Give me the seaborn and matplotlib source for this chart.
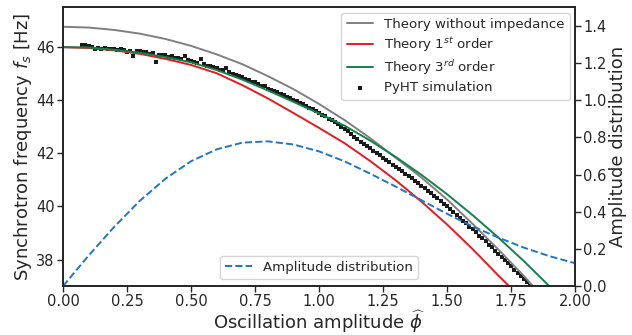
import numpy as np
import pandas as pd
import matplotlib
matplotlib.use("Agg")
import matplotlib.pyplot as plt
import seaborn as sns

# Theory without impedance (gray)
x_free = [0.0, 0.1, 0.2, 0.3, 0.4, 0.5, 0.6, 0.7, 0.8, 0.9, 1.0, 1.1, 1.2, 1.3,
          1.4, 1.5, 1.6, 1.7, 1.8, 1.84]
f_free = [46.77, 46.74, 46.65, 46.51, 46.31, 46.05, 45.73, 45.36, 44.91, 44.42,
          43.86, 43.25, 42.57, 41.83, 41.09, 40.26, 39.34, 38.38, 37.38, 36.95]

# Theory 1st order (red)
x_first = [0.0, 0.1, 0.2, 0.3, 0.4, 0.5, 0.6, 0.7, 0.8, 0.9, 1.0, 1.1, 1.2, 1.3,
           1.4, 1.5, 1.6, 1.7, 1.745]
f_first = [46.00, 45.97, 45.88, 45.75, 45.56, 45.33, 45.02, 44.57, 44.07, 43.52,
           42.96, 42.38, 41.71, 40.98, 40.18, 39.32, 38.39, 37.40, 36.97]

# Theory 3rd order (green)
x_third = [0.0, 0.1, 0.2, 0.3, 0.4, 0.5, 0.6, 0.7, 0.8, 0.9, 1.0, 1.1, 1.2, 1.3,
           1.4, 1.5, 1.6, 1.7, 1.8, 1.9]
f_third = [46.00, 45.99, 45.90, 45.79, 45.63, 45.43, 45.14, 44.78, 44.37, 43.94,
           43.50, 43.04, 42.48, 41.86, 41.19, 40.46, 39.67, 38.83, 37.94, 36.99]

# PyHT simulation points
x_sim = [0.075, 0.0875, 0.1, 0.1125, 0.125, 0.1375, 0.15, 0.1625, 0.175, 0.1875,
         0.2, 0.2125, 0.225, 0.2375, 0.25, 0.2625, 0.275, 0.2875, 0.3, 0.3125,
         0.325, 0.3375, 0.35, 0.3625, 0.375, 0.3875, 0.4, 0.4125, 0.425, 0.4375,
         0.45, 0.4625, 0.475, 0.4875, 0.5, 0.5125, 0.525, 0.5375, 0.55, 0.5625,
         0.575, 0.5875, 0.6, 0.6125, 0.625, 0.6375, 0.65, 0.6625, 0.675, 0.6875,
         0.7, 0.7125, 0.725, 0.7375, 0.75, 0.7625, 0.775, 0.7875, 0.8, 0.8125,
         0.825, 0.8375, 0.85, 0.8625, 0.875, 0.8875, 0.9, 0.9125, 0.925, 0.9375,
         0.95, 0.9625, 0.975, 0.9875, 1.0, 1.0125, 1.025, 1.0375, 1.05, 1.0625,
         1.075, 1.0875, 1.1, 1.1125, 1.125, 1.1375, 1.15, 1.1625, 1.175, 1.1875,
         1.2, 1.2125, 1.225, 1.2375, 1.25, 1.2625, 1.275, 1.2875, 1.3, 1.3125,
         1.325, 1.3375, 1.35, 1.3625, 1.375, 1.3875, 1.4, 1.4125, 1.425, 1.4375,
         1.45, 1.4625, 1.475, 1.4875, 1.5, 1.5125, 1.525, 1.5375, 1.55, 1.5625,
         1.575, 1.5875, 1.6, 1.6125, 1.625, 1.6375, 1.65, 1.6625, 1.675, 1.6875,
         1.7, 1.7125, 1.725, 1.7375, 1.75, 1.7625, 1.775, 1.7875, 1.8, 1.8125,
         1.825]
f_sim = [46.08, 46.10, 46.06, 46.02, 45.95, 45.98, 45.94, 45.96, 45.94, 45.92,
         45.95, 45.88, 45.93, 45.90, 45.82, 45.86, 45.68, 45.86, 45.84, 45.80,
         45.82, 45.76, 45.78, 45.44, 45.72, 45.70, 45.69, 45.64, 45.66, 45.60,
         45.58, 45.55, 45.66, 45.50, 45.48, 45.46, 45.42, 45.55, 45.36, 45.30,
         45.28, 45.26, 45.22, 45.15, 45.14, 45.20, 45.05, 45.00, 44.94, 44.92,
         44.86, 44.80, 44.76, 44.70, 44.68, 44.62, 44.54, 44.52, 44.43, 44.40,
         44.34, 44.30, 44.22, 44.18, 44.12, 44.08, 44.00, 43.96, 43.88, 43.86,
         43.78, 43.72, 43.66, 43.60, 43.53, 43.46, 43.40, 43.30, 43.26, 43.18,
         43.10, 43.00, 42.92, 42.84, 42.74, 42.62, 42.55, 42.44, 42.36, 42.26,
         42.20, 42.10, 42.00, 41.92, 41.84, 41.74, 41.66, 41.58, 41.50, 41.42,
         41.32, 41.24, 41.14, 41.06, 40.96, 40.88, 40.78, 40.70, 40.60, 40.50,
         40.40, 40.30, 40.20, 40.10, 40.00, 39.90, 39.78, 39.68, 39.56, 39.46,
         39.36, 39.24, 39.14, 39.02, 38.90, 38.80, 38.68, 38.56, 38.46, 38.34,
         38.22, 38.10, 37.98, 37.86, 37.74, 37.62, 37.50, 37.38, 37.26, 37.14,
         37.02]

# Amplitude distribution (right axis)
x_dist = [0.0, 0.1, 0.2, 0.3, 0.4, 0.5, 0.6, 0.7, 0.8, 0.9, 1.0, 1.1, 1.2, 1.3,
          1.4, 1.5, 1.6, 1.7, 1.8, 1.9, 2.0]
p_dist = [0.0, 0.164, 0.319, 0.459, 0.578, 0.672, 0.736, 0.772, 0.779, 0.762,
          0.725, 0.671, 0.605, 0.535, 0.462, 0.389, 0.321, 0.261, 0.207, 0.161,
          0.123]

sns.set_theme(style="ticks")
plt.rcParams['font.family'] = ['DejaVu Sans']
plt.rcParams['mathtext.fontset'] = 'dejavusans'

fig = plt.figure(figsize=(6.32, 3.35), dpi=100)
ax = fig.add_axes([0.0997, 0.146, 0.8103, 0.832])
ax2 = ax.twinx()

sns.lineplot(x=x_free, y=f_free, ax=ax, color='gray', lw=1.4,
             label='Theory without impedance')
sns.lineplot(x=x_first, y=f_first, ax=ax, color='#e8191f', lw=1.4,
             label='Theory 1$^{st}$ order')
sns.lineplot(x=x_third, y=f_third, ax=ax, color='#13824a', lw=1.4,
             label='Theory 3$^{rd}$ order')
sns.scatterplot(x=x_sim, y=f_sim, ax=ax, color='#1a1a1a', marker='s', s=5,
                linewidth=0, label='PyHT simulation')

sns.lineplot(x=x_dist, y=p_dist, ax=ax2, color='#1f77c4', lw=1.4, ls='--',
             label='Amplitude distribution')

ax.set_xlim(0, 2)
ax.set_ylim(37, 47.5)
ax.set_yticks([38, 40, 42, 44, 46])
ax.set_xticks([0, 0.25, 0.5, 0.75, 1.0, 1.25, 1.5, 1.75, 2.0])
ax.set_xticklabels(['0.00', '0.25', '0.50', '0.75', '1.00', '1.25', '1.50',
                    '1.75', '2.00'])
ax2.set_ylim(0, 1.5)
ax2.set_yticks([0.0, 0.2, 0.4, 0.6, 0.8, 1.0, 1.2, 1.4])

ax.set_xlabel(r'Oscillation amplitude $\widehat{\phi}$', fontsize=13)
ax.set_ylabel(r'Synchrotron frequency $f_s$ [Hz]', fontsize=13)
ax2.set_ylabel('Amplitude distribution', fontsize=13)
ax.xaxis.set_label_coords(0.5, -0.0805)
ax.yaxis.set_label_coords(-0.057, 0.5)
ax2.yaxis.set_label_coords(1.066, 0.5)
for a in (ax, ax2):
    a.tick_params(labelsize=10.5, length=4, width=1, pad=2)

leg = ax.legend(loc='upper right', fontsize=9.6, markerscale=1.0,
                labelspacing=0.32, borderaxespad=0.4)
ax2.legend(loc='lower center', fontsize=9.6)

fig.savefig('out.png', dpi=100)
